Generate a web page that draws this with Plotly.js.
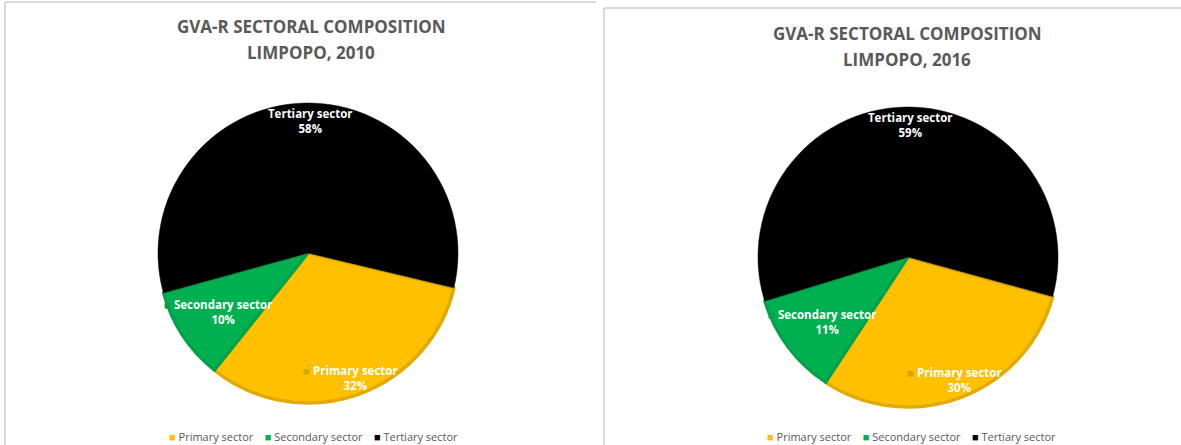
<!DOCTYPE html>
<html>
<head>
<meta charset="utf-8">
<script src="https://cdn.plot.ly/plotly-3.0.1.min.js"></script>
<style>html,body{margin:0;padding:0;background:#fff;}#chart{width:1181px;height:445px;}</style>
</head>
<body>
<div id="chart"></div>
<script>
// ---- data ----
const sectors = ["Primary sector", "Secondary sector", "Tertiary sector"];
const values2010 = [32, 10, 58];
const values2016 = [30, 11, 59];
const titleLine1 = "GVA-R SECTORAL COMPOSITION";
const titleLine2010 = "LIMPOPO, 2010";
const titleLine2016 = "LIMPOPO, 2016";

// ---- styles ----
const W = 1181, H = 445;
const fillColors = ["#FFC000", "#00B050", "#000000"];
const lineColors = ["#E2AA00", "#00A04A", "#000000"];
const keyColors = ["#D9A300", "#00A04A", "rgba(0,0,0,0)"];
const labelRadius = [0.88, 0.72, 0.88];
const R = 150;
const panels = [
  {cx: 308, cy: 253, rot: 103.4, values: values2010, title2: titleLine2010, ty: 26, tx: 311, lx: 313},
  {cx: 908, cy: 257, rot: 105.3, values: values2016, title2: titleLine2016, ty: 33, tx: 907, lx: 911}
];

const traces = [], annotations = [];
const sp = "&nbsp;";
panels.forEach((p, i) => {
  traces.push({
    type: "pie",
    labels: sectors,
    values: p.values,
    sort: false,
    direction: "clockwise",
    rotation: p.rot,
    textinfo: "none",
    hoverinfo: "label+percent",
    marker: {colors: fillColors, line: {color: lineColors, width: [3.5, 3, 0.5]}},
    domain: {x: [(p.cx - R) / W, (p.cx + R) / W], y: [1 - (p.cy + R) / H, 1 - (p.cy - R) / H]},
    showlegend: false
  });
  // data labels positioned from values
  const total = p.values.reduce((a, b) => a + b, 0);
  let start = p.rot;
  p.values.forEach((v, k) => {
    const span = v / total * 360;
    const mid = (start + span / 2) * Math.PI / 180;
    start += span;
    const rr = R * labelRadius[k];
    const px = p.cx + rr * Math.sin(mid);
    const py = p.cy - rr * Math.cos(mid);
    const pct = Math.round(v / total * 100);
    annotations.push({
      xref: "paper", yref: "paper", x: px / W, y: 1 - py / H,
      xanchor: "center", yanchor: "middle", showarrow: false, align: "center",
      text: `<span style="color:${keyColors[k]}">■</span> <b>${sectors[k]}</b><br><span style="color:rgba(0,0,0,0)">■</span> <b>${pct}%</b>`,
      font: {family: "Open Sans, sans-serif", size: 11.5, color: "#FFFFFF"}
    });
  });
  annotations.push({
    xref: "paper", yref: "paper", x: p.tx / W, y: 1 - p.ty / H, xanchor: "center", yanchor: "middle",
    showarrow: false, text: `<b>${titleLine1}</b>`,
    font: {family: "Open Sans, sans-serif", size: 17, color: "#595959"}
  });
  annotations.push({
    xref: "paper", yref: "paper", x: p.tx / W, y: 1 - (p.ty + 26) / H, xanchor: "center", yanchor: "middle",
    showarrow: false, text: `<b>${p.title2}</b>`,
    font: {family: "Open Sans, sans-serif", size: 17, color: "#595959"}
  });
  // legend built as text line
  const legendText = sectors.map((s, k) => `<span style="color:${fillColors[k]}">■</span> ${s}`).join(sp.repeat(4));
  annotations.push({
    xref: "paper", yref: "paper", x: p.lx / W, y: 1 - 436 / H, xanchor: "center", yanchor: "middle",
    showarrow: false, text: legendText,
    font: {family: "Open Sans, sans-serif", size: 11, color: "#595959"}
  });
});

const gray = "#D9D9D9";
const shapes = [
  {type: "line", xref: "paper", yref: "paper", x0: 5 / W, x1: 596 / W, y0: 1 - 2 / H, y1: 1 - 2 / H, line: {color: gray, width: 2}},
  {type: "line", xref: "paper", yref: "paper", x0: 5 / W, x1: 5 / W, y0: 1 - 2 / H, y1: 0, line: {color: gray, width: 2}},
  {type: "line", xref: "paper", yref: "paper", x0: 604 / W, x1: 1181 / W, y0: 1 - 8 / H, y1: 1 - 8 / H, line: {color: gray, width: 2}},
  {type: "line", xref: "paper", yref: "paper", x0: 604 / W, x1: 604 / W, y0: 1 - 8 / H, y1: 0, line: {color: gray, width: 2}}
];

const layout = {
  width: W, height: H,
  margin: {l: 0, r: 0, t: 0, b: 0},
  paper_bgcolor: "#FFFFFF",
  showlegend: false,
  annotations: annotations,
  shapes: shapes
};

Plotly.newPlot("chart", traces, layout, {displayModeBar: false, staticPlot: true});
</script>
</body>
</html>
